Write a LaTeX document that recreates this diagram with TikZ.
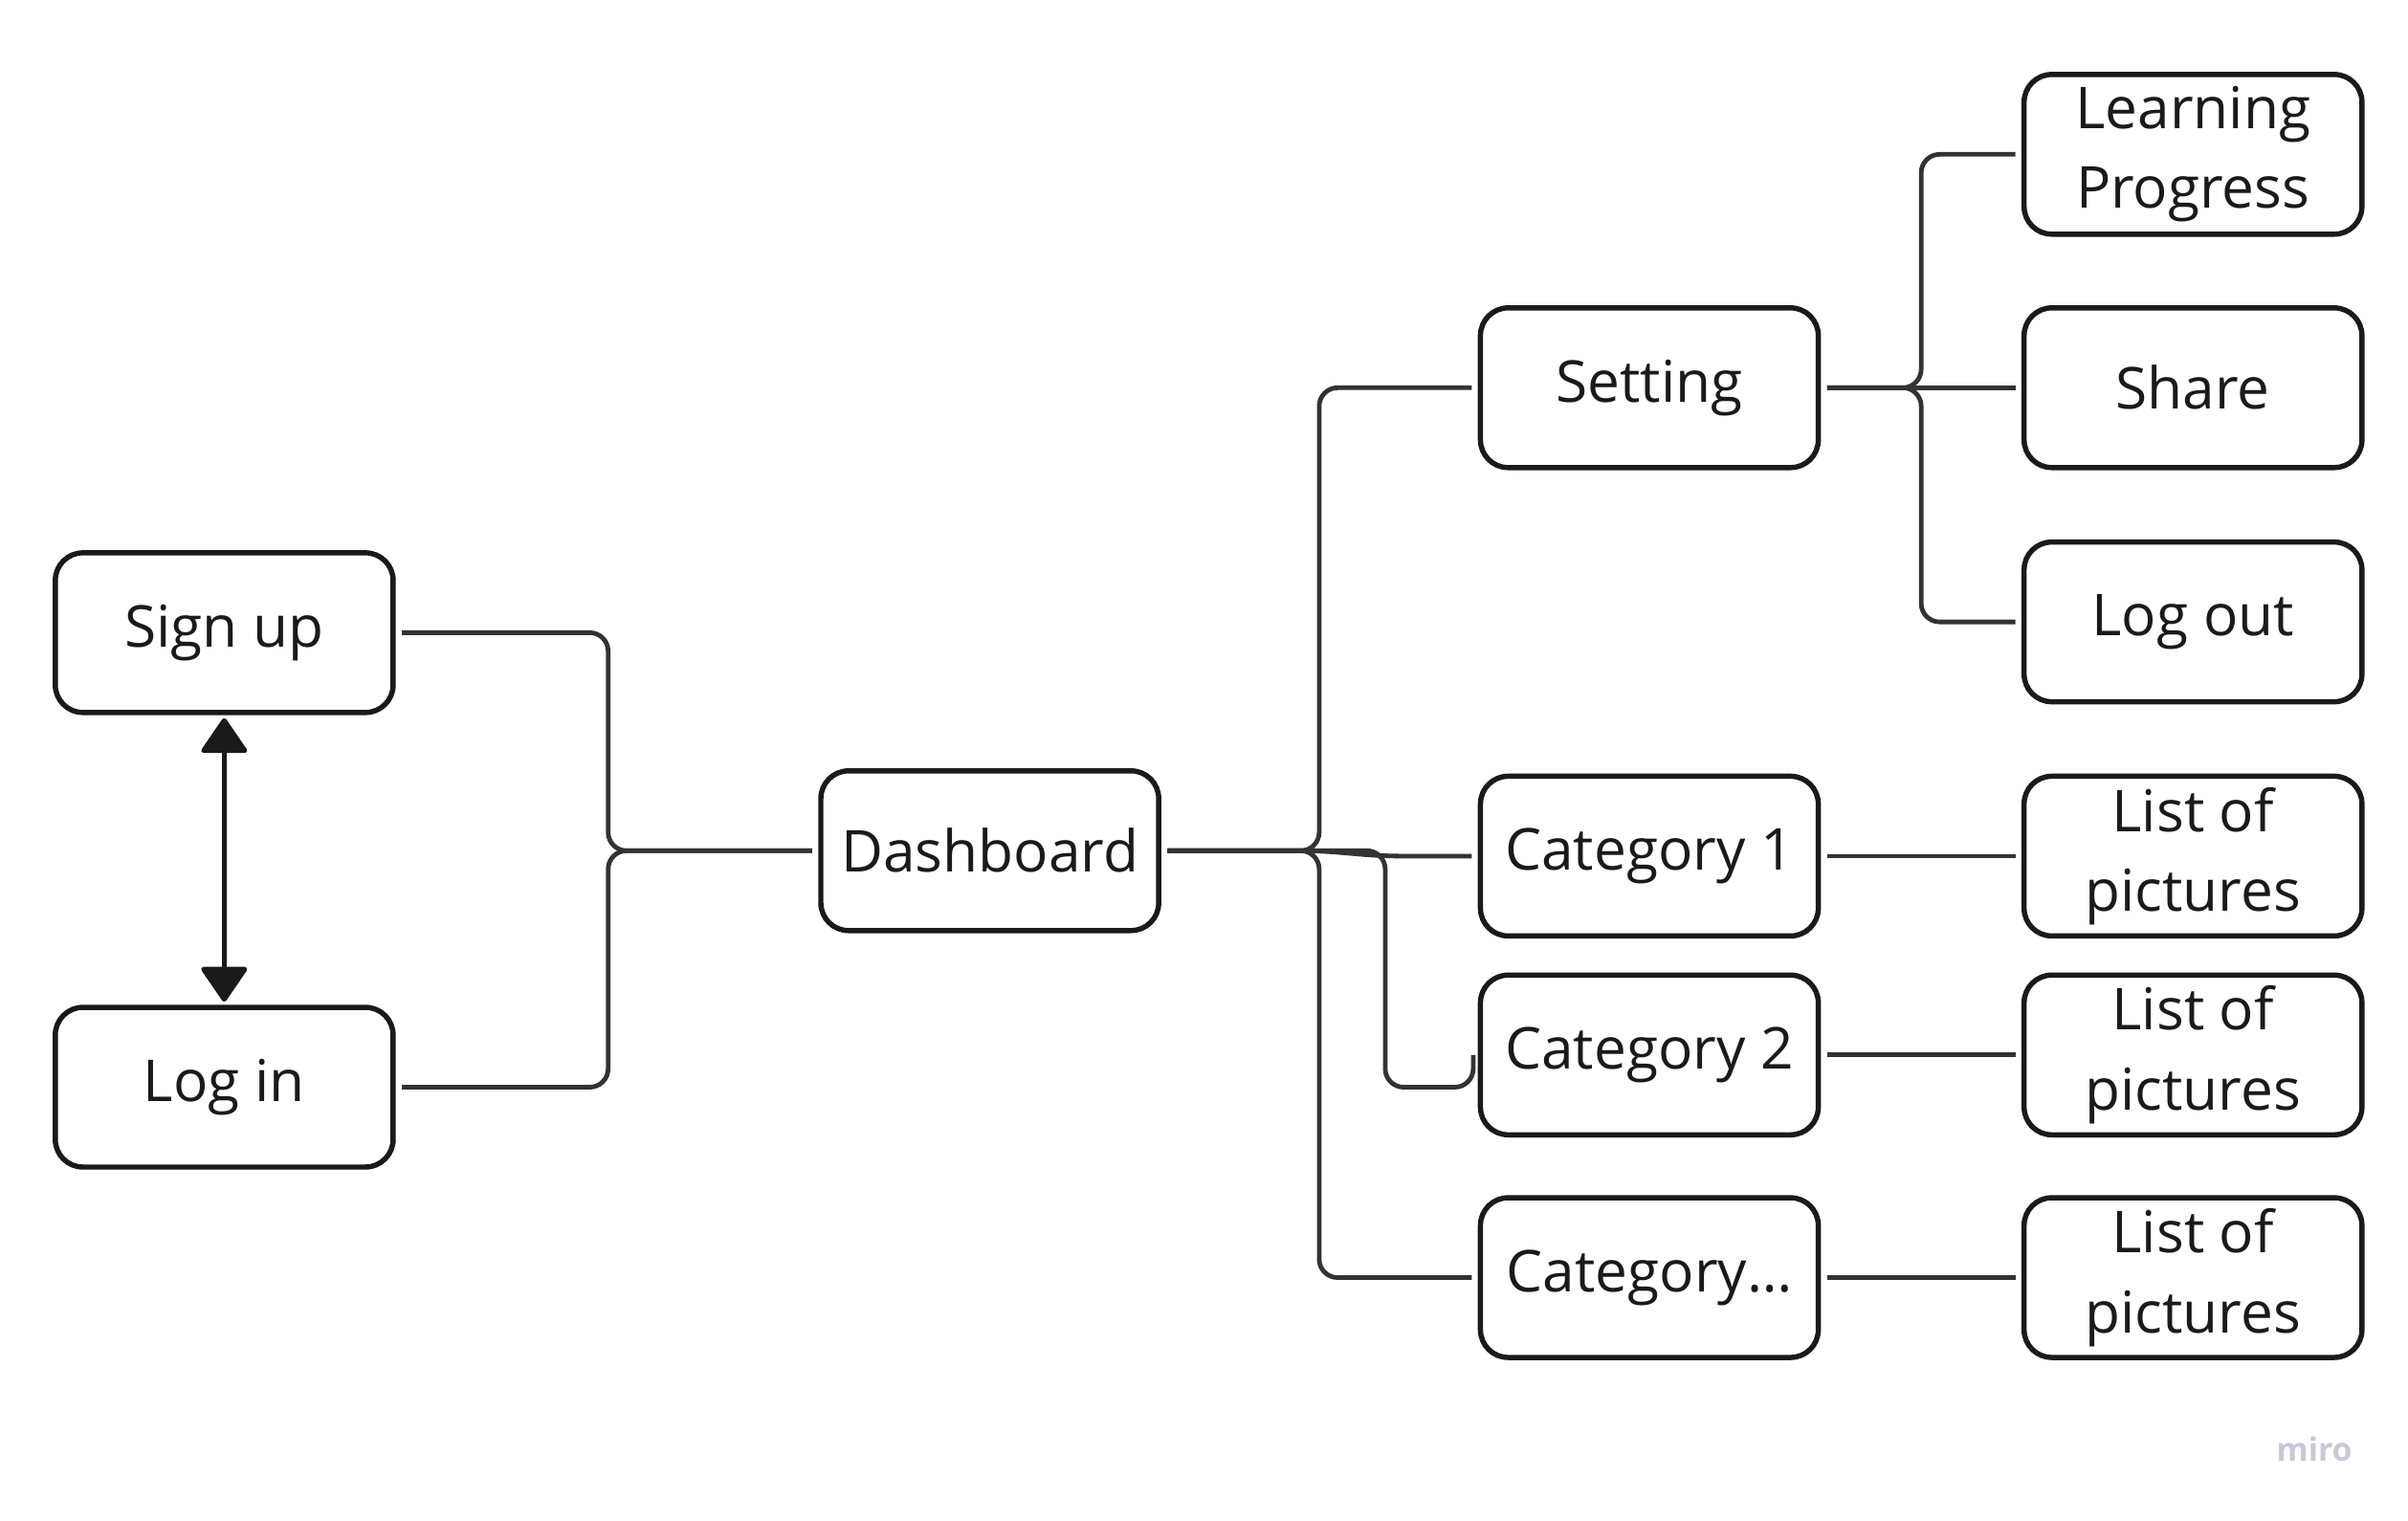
\documentclass[tikz,border=0pt]{standalone}
\usepackage{fontspec}
\setmainfont{Open Sans}
\usetikzlibrary{arrows.meta,calc}
\definecolor{boxline}{HTML}{1A1A1A}
\definecolor{connc}{HTML}{333333}
\definecolor{mirogray}{HTML}{C8C8D6}
\begin{document}
\begin{tikzpicture}[x=0.5pt,y=-0.5pt,
  box/.style={draw=boxline, line width=1.7pt, rounded corners=9pt,
    minimum width=110pt, minimum height=52pt, inner sep=0pt, align=center,
    text=boxline, font=\fontsize{18.8}{26}\selectfont, fill=white},
  link/.style={draw=connc, line width=1.5pt, rounded corners=6pt,
    shorten <=2pt, shorten >=2pt},
  dblarrow/.style={draw=boxline, line width=1.6pt,
    {Triangle[width=16pt,length=12pt,round]}-{Triangle[width=16pt,length=12pt,round]},
    shorten <=1pt, shorten >=1pt}]
\fill[white] (0,0) rectangle (1568,990);
\useasboundingbox (0,0) rectangle (1568,990);

% nodes
\node[box] (su) at (146,412) {Sign up};
\node[box] (li) at (146,708) {Log in};
\node[box] (db) at (644.5,554) {Dashboard};
\node[box] (st) at (1074,252.5) {Setting};
\node[box] (c1) at (1074,557.5) {Category 1};
\node[box] (c2) at (1074,687) {Category 2};
\node[box] (cx) at (1074,832) {Category…};
\node[box] (lp) at (1428,100.5) {Learning\\Progress};
\node[box] (sh) at (1428,252.5) {Share};
\node[box] (lo) at (1428,405) {Log out};
\node[box] (p1) at (1428,557.5) {List of\\pictures};
\node[box] (p2) at (1428,687) {List of\\pictures};
\node[box] (p3) at (1428,832) {List of\\pictures};

\node[text=mirogray, font=\fontsize{10.5}{11}\selectfont\bfseries] (logo) at (1507,944) {miro};

% junction coordinates
\coordinate (jl) at (396,554);
\coordinate (jr) at (859,554);
\coordinate (jc) at (900,557.5);
\coordinate (k1) at (902,708);
\coordinate (js) at (1251,252.5);

% connectors left
\draw[link] (su.east) -| (jl) -- (db.west);
\draw[link] (li.east) -| (jl) -- (db.west);
\draw[dblarrow] (su.south) -- (li.north);

% connectors from dashboard
\draw[link] (db.east) -- (jr) |- (st.west);
\draw[link] (db.east) -- (jr) |- (cx.west);
\draw[link] (db.east) -- (jr) -- (jc) -- (c1.west);
\draw[link, shorten >=0pt] (db.east) -| (k1) -| ([xshift=-1.5pt]c2.west);

% connectors from setting
\draw[link] (st.east) -- (js) |- (lp.west);
\draw[link] (st.east) -- (sh.west);
\draw[link] (st.east) -- (js) |- (lo.west);

% categories to lists
\draw[link] (c1.east) -- (p1.west);
\draw[link] (c2.east) -- (p2.west);
\draw[link] (cx.east) -- (p3.west);
\end{tikzpicture}
\end{document}
